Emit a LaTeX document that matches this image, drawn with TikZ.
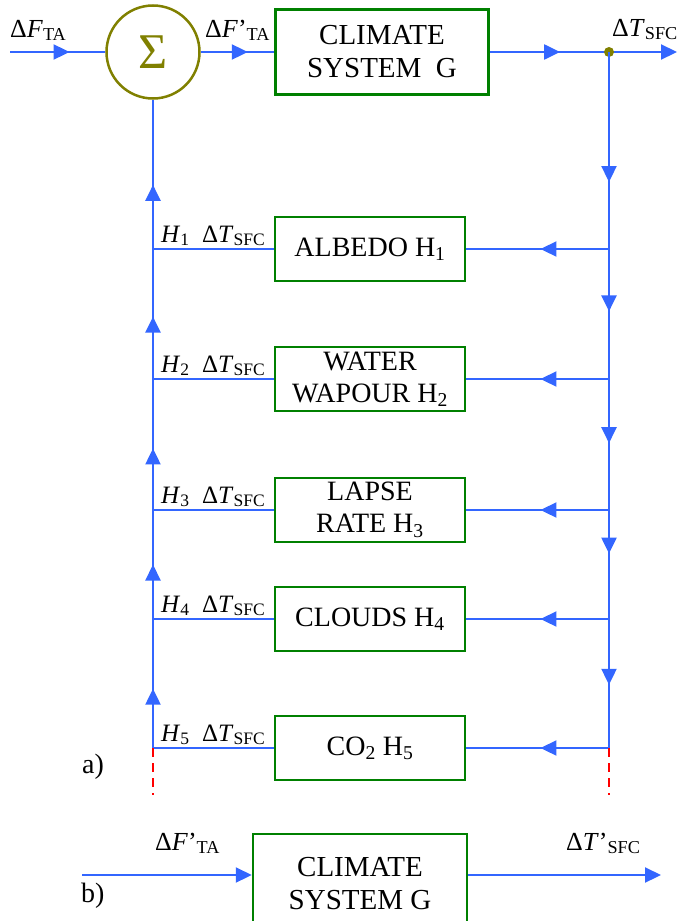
\documentclass[tikz,border=0pt]{standalone}
\usepackage{fontspec}
\setmainfont{Liberation Serif}
\usetikzlibrary{positioning, arrows.meta, calc, decorations.markings}
\definecolor{cBlue}{RGB}{51,102,255}
\definecolor{cGreen}{RGB}{0,128,0}
\definecolor{cOlive}{RGB}{128,128,0}
\definecolor{cRed}{RGB}{255,0,0}

\tikzset{
    bTri/.tip={Triangle[length=16pt 0 0, width=15pt 0 0]},
    sig/.style={draw=cBlue, line width=2.2pt},
    blk/.style={draw=cGreen, line width=2.5pt, align=center, inner sep=0pt,
        font=\fontsize{29}{33}\selectfont},
    fb/.style={blk, minimum width=190pt, minimum height=64pt, font=\fontsize{28}{32}\selectfont},
    midarr/.style={postaction={decorate}, decoration={markings,
        mark=at position #1 with {\arrow{bTri}}}},
    lbl/.style={inner sep=0pt, anchor=base west, font=\fontsize{26}{28}\selectfont},
    hlbl/.style={inner sep=0pt, anchor=base west, font=\fontsize{25}{27}\selectfont},
}

\begin{document}
\begin{tikzpicture}[x=1pt, y=-1pt]

    \clip (0,0) rectangle (678,921);

    % --- a) Feedback loop ---
    \node[circle, draw=cOlive, line width=2.5pt, minimum size=93pt, inner sep=0pt,
        text=cOlive, font=\fontsize{50}{50}\selectfont] (sum) at (153,52) {Σ};
    \node[blk, minimum width=213pt, minimum height=85pt] (g) at (382,52) {CLIMATE\\SYSTEM\ \ G};

    \coordinate (in) at (10,52);
    \coordinate (split) at (609,52);
    \coordinate (out) at (677,52);

    \draw[sig, midarr=0.625] (in) -- (sum.west);
    \draw[sig, midarr=0.64] (sum.east) -- (g.west);
    \draw[sig, midarr=0.59] (g.east) -- (split);
    \draw[sig, -bTri] (split) -- (out);
    \fill[cOlive] (split) circle (5pt);

    \node[lbl] (fin) at (10,37) {Δ\textit{F}\textsubscript{TA}};
    \node[lbl] (fin2) at (205,37) {Δ\textit{F}’\textsubscript{TA}};
    \node[lbl] (tout) at (612,36) {Δ\textit{T}\textsubscript{SFC}};

    % Feedback blocks
    \node[fb] (h1) at (370,249) {ALBEDO H\textsubscript{1}};
    \node[fb] (h2) at (370,379) {WATER\\WAPOUR H\textsubscript{2}};
    \node[fb] (h3) at (370,510) {LAPSE\\RATE H\textsubscript{3}};
    \node[fb] (h4) at (370,619) {CLOUDS H\textsubscript{4}};
    \node[fb] (h5) at (370,748) {CO\textsubscript{2} H\textsubscript{5}};

    % Branch points on the two rails
    \foreach \i/\y in {1/249, 2/379, 3/510, 4/619, 5/748} {
        \coordinate (r\i) at (609,\y);
        \coordinate (l\i) at (153,\y);
    }
    \coordinate (r6) at (609,795);
    \coordinate (l6) at (153,795);

    % Right rail (down) and left rail (up)
    \foreach \a/\b/\p in {split/r1/0.66, r1/r2/0.48, r2/r3/0.49, r3/r4/0.40, r4/r5/0.51} {
        \draw[sig, midarr=\p] (\a) -- (\b);
    }
    \foreach \a/\b/\p in {l5/l4/0.46, l4/l3/0.50, l3/l2/0.47, l2/l1/0.48} {
        \draw[sig, midarr=\p] (\a) -- (\b);
    }
    \draw[sig, midarr=0.43] (l1) -- (sum.south);

    % Feedback branches
    \foreach \i in {1,...,5} {
        \draw[sig, midarr=0.48] (r\i) -- (h\i.east);
        \draw[sig] (h\i.west) -- (l\i);
        \node[hlbl] (hl\i) at ($(l\i)+(8,-7)$) {\textit{H}\textsubscript{\i}\ \ Δ\textit{T}\textsubscript{SFC}};
    }

    % Open ends
    \draw[cRed, line width=2pt, dash pattern=on 9pt off 6pt] (l5) -- (l6);
    \draw[cRed, line width=2pt, dash pattern=on 9pt off 6pt] (r5) -- (r6);
    \node[lbl, font=\fontsize{28}{30}\selectfont] (la) at (82,773) {a)};

    % --- b) Open loop ---
    \node[blk, minimum width=214pt, minimum height=100pt] (gb) at (360,884) {CLIMATE\\SYSTEM G};
    \coordinate (inb) at (82,875);
    \coordinate (outb) at (661,875);
    \draw[sig, -bTri] (inb) -- (inb -| gb.west);
    \draw[sig, -bTri] (outb -| gb.east) -- (outb);

    \node[lbl] (finb) at (155,850) {Δ\textit{F}’\textsubscript{TA}};
    \node[lbl] (toutb) at (566,850) {Δ\textit{T}’\textsubscript{SFC}};
    \node[lbl, font=\fontsize{28}{30}\selectfont] (lb) at (81,902) {b)};

\end{tikzpicture}
\end{document}
